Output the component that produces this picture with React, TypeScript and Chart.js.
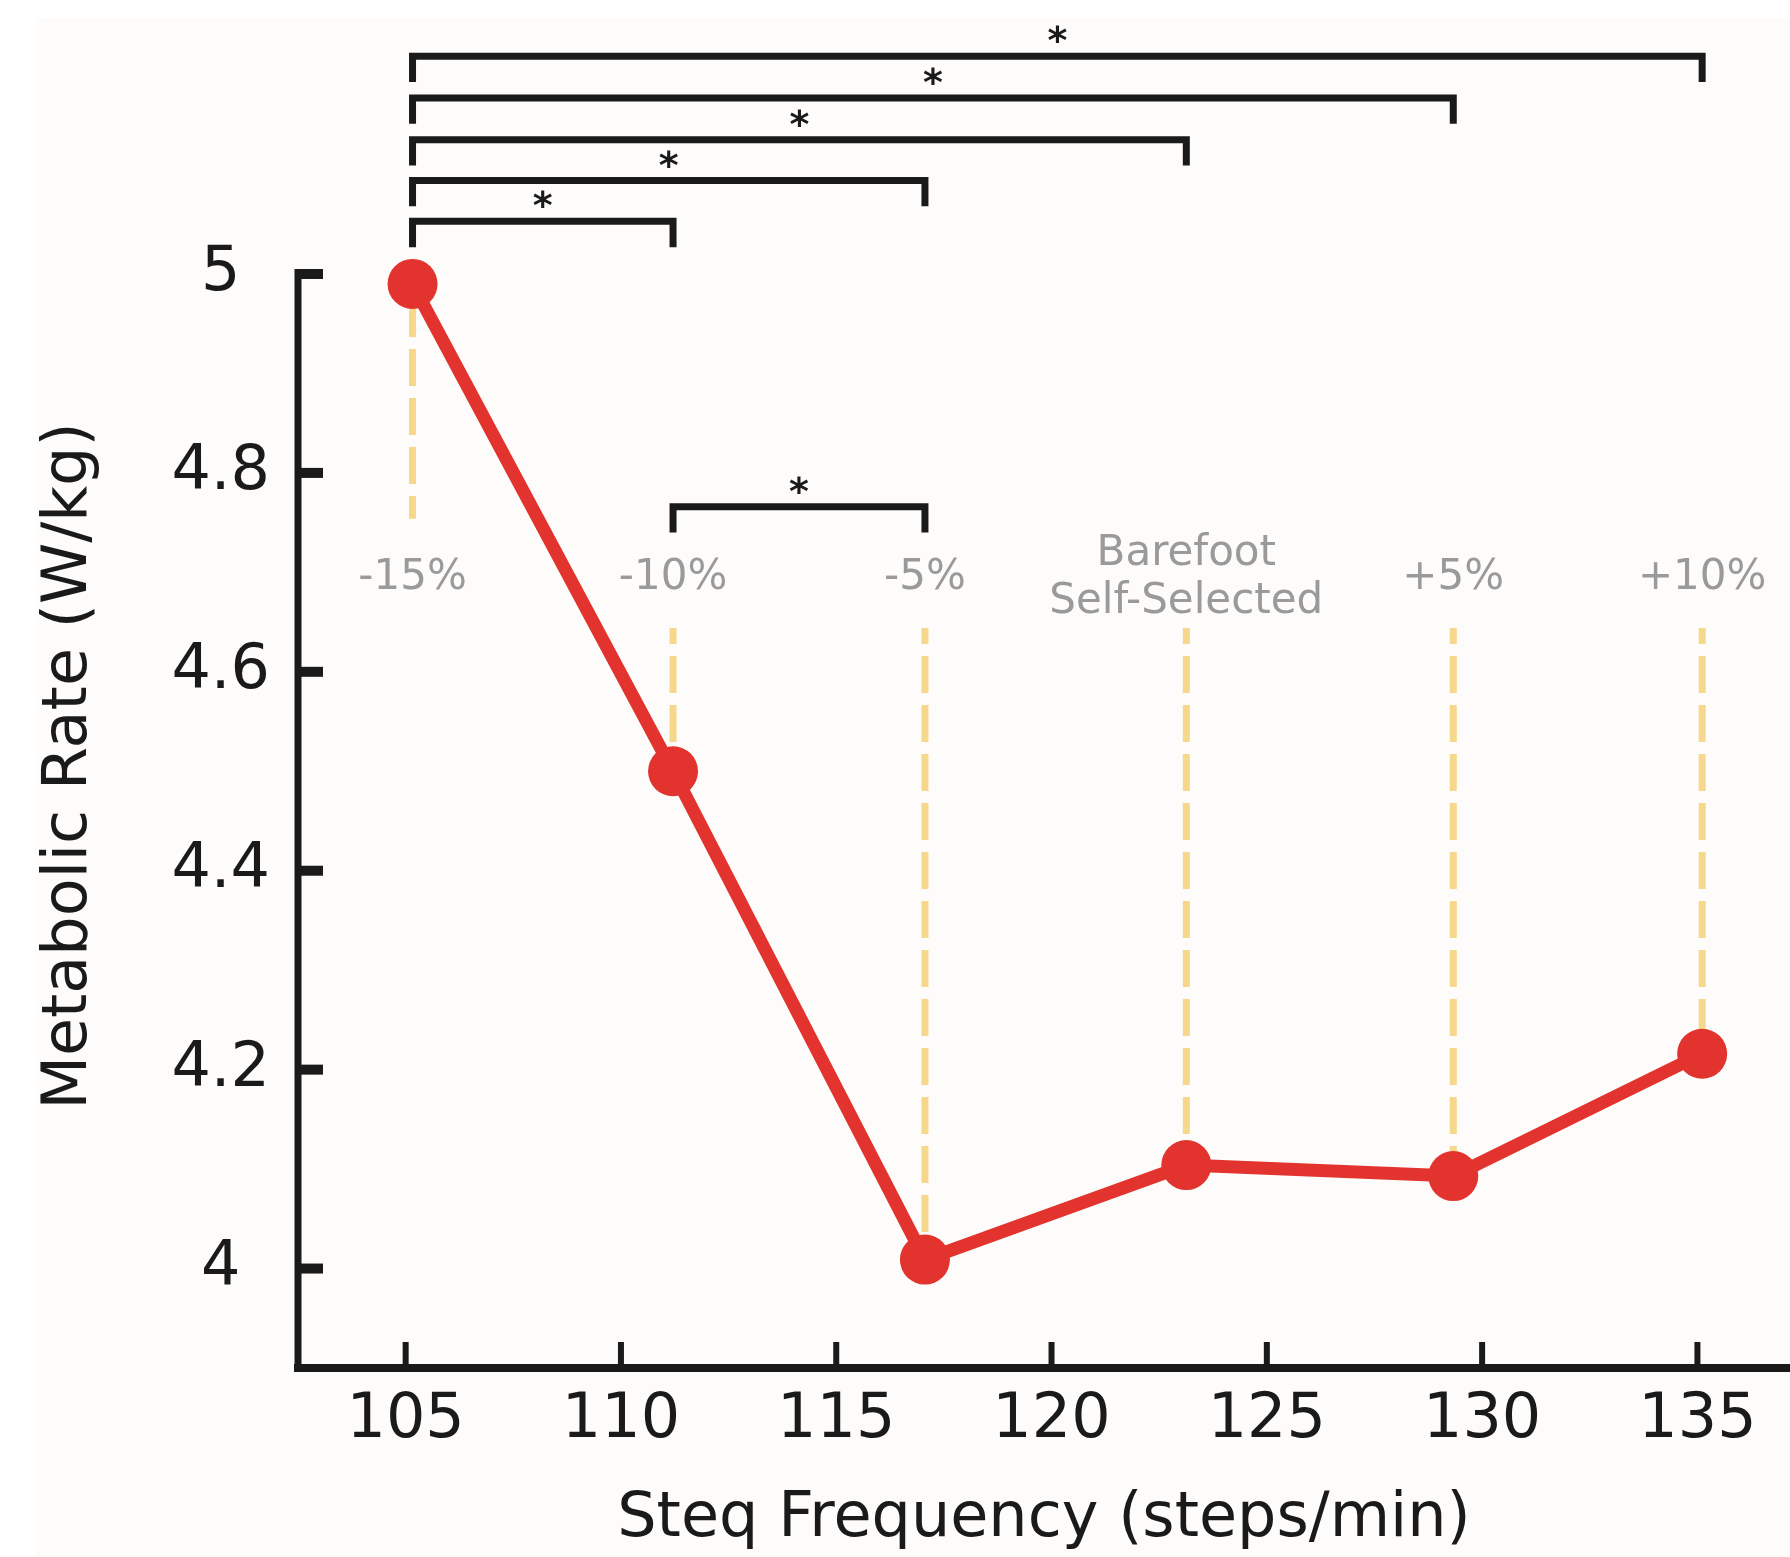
import React, { useEffect, useRef } from 'react';
import { Chart, registerables } from 'chart.js';

Chart.register(...registerables);

// ---- data ----
const stepFreq = [105.16, 111.21, 117.06, 123.13, 129.33, 135.11];
const metabolicRate = [4.99, 4.5, 4.009, 4.104, 4.093, 4.216];
const conditionLabels = ['-15%', '-10%', '-5%', 'Barefoot\nSelf-Selected', '+5%', '+10%'];
const xTicks = [105, 110, 115, 120, 125, 130, 135];
const xTickLabels = ['105', '110', '115', '120', '125', '130', '135'];
const yTicks = [4, 4.2, 4.4, 4.6, 4.8, 5];
const yTickLabels = ['4', '4.2', '4.4', '4.6', '4.8', '5'];
const bracketFrom = [0, 0, 0, 0, 0, 1];
const bracketTo = [5, 4, 3, 2, 1, 2];
const bracketLevel = [5.219, 5.177, 5.135, 5.094, 5.053, 4.766];
const bracketMarks = ['*', '*', '*', '*', '*', '*'];

const LABEL_LEVEL = 4.694; // centre of condition labels
const GUIDE_BELOW_START = 4.644;
const GUIDE_ABOVE_END = 4.754;
const LEG_DROP = 0.026;

const FONT = "'DejaVu Sans', Verdana, sans-serif";
const INK = '#1a1a1a';
const RED = '#e2332e';
const GOLD = '#f5d88c';
const GRAY = '#9a9a9a';

const decorPlugin = {
  id: 'decor',
  beforeDraw(chart: any) {
    const { ctx, width, height } = chart;
    ctx.save();
    ctx.fillStyle = '#ffffff';
    ctx.fillRect(0, 0, width, height);
    ctx.fillStyle = '#fdfcfa';
    ctx.fillRect(36, 18, width - 36, height - 18);
    ctx.restore();
  },
  beforeDatasetsDraw(chart: any) {
    const { ctx, chartArea } = chart;
    const xs = chart.scales.x;
    const ys = chart.scales.y;
    ctx.save();
    // axes
    ctx.strokeStyle = INK;
    ctx.fillStyle = INK;
    ctx.lineWidth = 7;
    ctx.beginPath();
    ctx.moveTo(chartArea.left, ys.getPixelForValue(5) - 5);
    ctx.lineTo(chartArea.left, chartArea.bottom + 4);
    ctx.stroke();
    ctx.lineWidth = 8;
    ctx.beginPath();
    ctx.moveTo(chartArea.left - 4, chartArea.bottom);
    ctx.lineTo(chartArea.right, chartArea.bottom);
    ctx.stroke();
    yTicks.forEach((v) => {
      const py = ys.getPixelForValue(v);
      ctx.fillRect(chartArea.left, py - 5, 25, 10);
    });
    xTicks.forEach((v) => {
      const px = xs.getPixelForValue(v);
      ctx.fillRect(px - 3, chartArea.bottom - 26, 6, 26);
    });

    // dashed guides
    ctx.strokeStyle = GOLD;
    ctx.lineWidth = 7;
    ctx.setLineDash([37, 12]);
    stepFreq.forEach((f, i) => {
      const px = xs.getPixelForValue(f);
      const v = metabolicRate[i];
      let y0: number, y1: number;
      if (v > LABEL_LEVEL) {
        y0 = ys.getPixelForValue(v);
        y1 = ys.getPixelForValue(GUIDE_ABOVE_END);
        ctx.lineDashOffset = -16;
      } else {
        y0 = ys.getPixelForValue(GUIDE_BELOW_START);
        y1 = ys.getPixelForValue(v);
        ctx.lineDashOffset = 21;
      }
      ctx.beginPath();
      ctx.moveTo(px, y0);
      ctx.lineTo(px, y1);
      ctx.stroke();
    });
    ctx.setLineDash([]);

    // condition labels
    ctx.fillStyle = GRAY;
    ctx.font = `42px ${FONT}`;
    ctx.textAlign = 'center';
    ctx.textBaseline = 'middle';
    stepFreq.forEach((f, i) => {
      const px = xs.getPixelForValue(f);
      const cy = ys.getPixelForValue(LABEL_LEVEL);
      const lines = conditionLabels[i].split('\n');
      const lh = 48;
      lines.forEach((t, k) => {
        ctx.fillText(t, px, cy + (k - (lines.length - 1) / 2) * lh);
      });
    });
    ctx.restore();
  },
  afterDraw(chart: any) {
    const { ctx } = chart;
    const xs = chart.scales.x;
    const ys = chart.scales.y;
    ctx.save();
    // brackets
    ctx.strokeStyle = INK;
    ctx.fillStyle = INK;
    ctx.lineWidth = 7;
    ctx.lineJoin = 'miter';
    ctx.lineCap = 'butt';
    ctx.font = `bold 38px ${FONT}`;
    ctx.textAlign = 'center';
    ctx.textBaseline = 'alphabetic';
    bracketFrom.forEach((a, k) => {
      const x0 = xs.getPixelForValue(stepFreq[a]);
      const x1 = xs.getPixelForValue(stepFreq[bracketTo[k]]);
      const yl = ys.getPixelForValue(bracketLevel[k]);
      const yb = ys.getPixelForValue(bracketLevel[k] - LEG_DROP);
      ctx.beginPath();
      ctx.moveTo(x0, yb);
      ctx.lineTo(x0, yl);
      ctx.lineTo(x1, yl);
      ctx.lineTo(x1, yb);
      ctx.stroke();
      ctx.fillText(bracketMarks[k], (x0 + x1) / 2, yl - 3);
    });
    // y title
    ctx.font = `62px ${FONT}`;
    ctx.textBaseline = 'middle';
    ctx.translate(70, 766);
    ctx.rotate(-Math.PI / 2);
    ctx.fillText('Metabolic Rate (W/kg)', 0, 0);
    ctx.restore();
  },
};

export default function App() {
  const canvasRef = useRef<HTMLCanvasElement | null>(null);

  useEffect(() => {
    const canvas = canvasRef.current;
    if (!canvas) return;
    const chart = new Chart(canvas, {
      type: 'line',
      data: {
        datasets: [
          {
            data: stepFreq.map((x, i) => ({ x, y: metabolicRate[i] })),
            borderColor: RED,
            backgroundColor: RED,
            borderWidth: 13,
            pointRadius: 25,
            pointHoverRadius: 25,
            pointBackgroundColor: RED,
            pointBorderColor: RED,
            pointBorderWidth: 0,
            tension: 0,
            clip: false as any,
          },
        ],
      },
      options: {
        responsive: false,
        animation: false,
        devicePixelRatio: 1,
        layout: { autoPadding: false, padding: { top: 274, left: 0, right: 0, bottom: 0 } },
        plugins: { legend: { display: false }, tooltip: { enabled: false } },
        scales: {
          x: {
            type: 'linear',
            min: 102.5,
            max: 137.15,
            afterBuildTicks: (s: any) => {
              s.ticks = xTicks.map((v) => ({ value: v }));
            },
            afterFit: (s: any) => {
              s.height = 189;
            },
            grid: { display: false, drawTicks: false },
            border: { display: false },
            ticks: {
              font: { family: FONT, size: 62 },
              color: INK,
              padding: 16,
              maxRotation: 0,
              autoSkip: false,
              callback: (_v: any, i: number) => xTickLabels[i],
            },
            title: {
              display: true,
              text: 'Steq Frequency (steps/min)',
              font: { family: FONT, size: 62 },
              color: INK,
              padding: { top: 0, bottom: 0 },
            },
          },
          y: {
            type: 'linear',
            min: 3.9,
            max: 5,
            afterBuildTicks: (s: any) => {
              s.ticks = yTicks.map((v) => ({ value: v }));
            },
            afterFit: (s: any) => {
              s.width = 298;
            },
            grid: { display: false, drawTicks: false },
            border: { display: false },
            ticks: {
              font: { family: FONT, size: 62 },
              color: INK,
              padding: 28,
              crossAlign: 'center',
              autoSkip: false,
              callback: (_v: any, i: number) => yTickLabels[i],
            },
          },
        },
      },
      plugins: [decorPlugin],
    } as any);
    return () => chart.destroy();
  }, []);

  return (
    <div style={{ position: 'absolute', left: 0, top: 0, width: 1790, height: 1557 }}>
      <canvas ref={canvasRef} width={1790} height={1557} style={{ display: 'block', width: 1790, height: 1557 }} />
    </div>
  );
}
